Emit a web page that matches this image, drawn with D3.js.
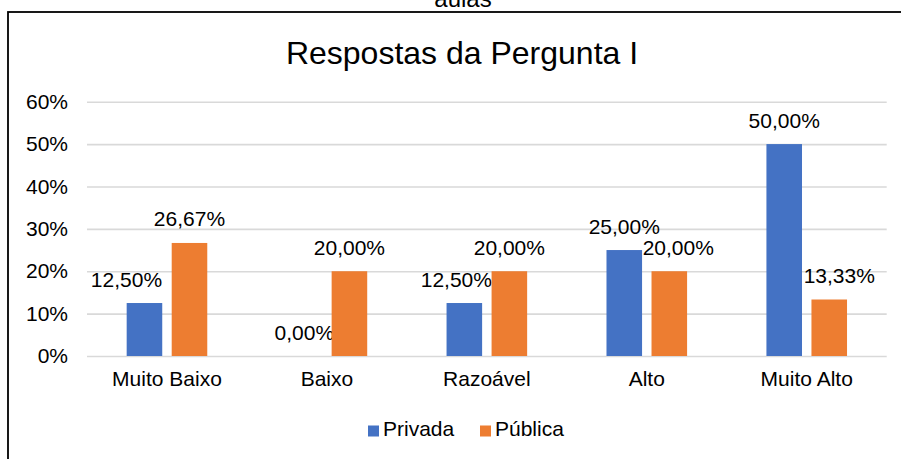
<!DOCTYPE html>
<html>
<head>
<meta charset="utf-8">
<script src="https://cdn.jsdelivr.net/npm/d3@7"></script>
<style>
  body { margin: 0; background: #fff; }
  text { font-family: "Liberation Sans", Arial, sans-serif; fill: #000; }
</style>
</head>
<body>
<svg id="chart" width="901" height="459"></svg>
<script>
// dados do gráfico
const categories = ["Muito Baixo", "Baixo", "Razoável", "Alto", "Muito Alto"];
const seriesNames = ["Privada", "Pública"];
const privada = [12.5, 0, 12.5, 25, 50];
const publica = [26.67, 20, 20, 20, 13.33];
const yTicks = [0, 10, 20, 30, 40, 50, 60];
const colors = ["#4472C4", "#ED7D31"];

// deslocamento horizontal dos rótulos (Excel evita sobreposição)
const labelShift = [[-18, 0, -8, 0, 0], [0, 0, 0, 9, 10]];

const svg = d3.select("#chart");
const plotLeft = 87, plotRight = 886.7, plotTop = 101.7, plotBottom = 356;

// texto cortado no topo
svg.append("text")
    .attr("x", 463).attr("y", 7)
    .attr("text-anchor", "middle")
    .style("font-size", "24px")
    .text("aulas");

// borda da área do gráfico
svg.append("rect")
    .attr("x", 8).attr("y", 12)
    .attr("width", 1000).attr("height", 1000)
    .attr("fill", "none")
    .attr("stroke", "#000")
    .attr("stroke-width", 1.8);

svg.append("text")
    .attr("x", 462).attr("y", 64)
    .attr("text-anchor", "middle")
    .style("font-size", "32px")
    .text("Respostas da Pergunta I");

const x = d3.scaleBand().domain(categories).range([plotLeft, plotRight]).padding(0);
const x1 = d3.scaleBand().domain(seriesNames).range([-40.3, 40.3]).paddingInner(0.21);
const y = d3.scaleLinear().domain([0, 60]).range([plotBottom, plotTop]);

// eixo Y com linhas de grade
const yAxis = svg.append("g")
    .attr("transform", `translate(${plotLeft},0)`)
    .call(d3.axisLeft(y).tickValues(yTicks).tickFormat(d => d + "%")
        .tickSize(-(plotRight - plotLeft)).tickPadding(19));
yAxis.select(".domain").remove();
yAxis.selectAll("line").attr("stroke", "#d9d9d9").attr("stroke-width", 1.6);
yAxis.selectAll("text").style("font-size", "21px")
    .style("font-family", "'Liberation Sans', Arial, sans-serif").attr("fill", "#000");

// eixo X
const xAxis = svg.append("g")
    .attr("transform", `translate(0,${plotBottom})`)
    .call(d3.axisBottom(x).tickSize(0).tickPadding(15));
xAxis.select(".domain").remove();
xAxis.selectAll("text").style("font-size", "21px")
    .style("font-family", "'Liberation Sans', Arial, sans-serif").attr("fill", "#000");

const fmt = v => v.toFixed(2).replace(".", ",") + "%";

const series = [privada, publica];
series.forEach((vals, s) => {
    const g = svg.append("g");
    g.selectAll("rect")
        .data(vals)
        .enter()
        .append("rect")
        .attr("x", (d, i) => x(categories[i]) + x.bandwidth() / 2 + x1(seriesNames[s]))
        .attr("y", d => y(d))
        .attr("width", x1.bandwidth())
        .attr("height", d => plotBottom - y(d))
        .attr("fill", colors[s]);
    g.selectAll("text")
        .data(vals)
        .enter()
        .append("text")
        .attr("x", (d, i) => x(categories[i]) + x.bandwidth() / 2 + x1(seriesNames[s]) + x1.bandwidth() / 2 + labelShift[s][i])
        .attr("y", d => y(d) - 16.5)
        .attr("text-anchor", "middle")
        .style("font-size", "21px")
        .text(d => fmt(d));
});

// legenda
const legendX = [368, 480];
seriesNames.forEach((name, s) => {
    svg.append("rect")
        .attr("x", legendX[s]).attr("y", 425.5)
        .attr("width", 11).attr("height", 11)
        .attr("fill", colors[s]);
    svg.append("text")
        .attr("x", legendX[s] + 15).attr("y", 436)
        .style("font-size", "21px")
        .text(name);
});
</script>
</body>
</html>
